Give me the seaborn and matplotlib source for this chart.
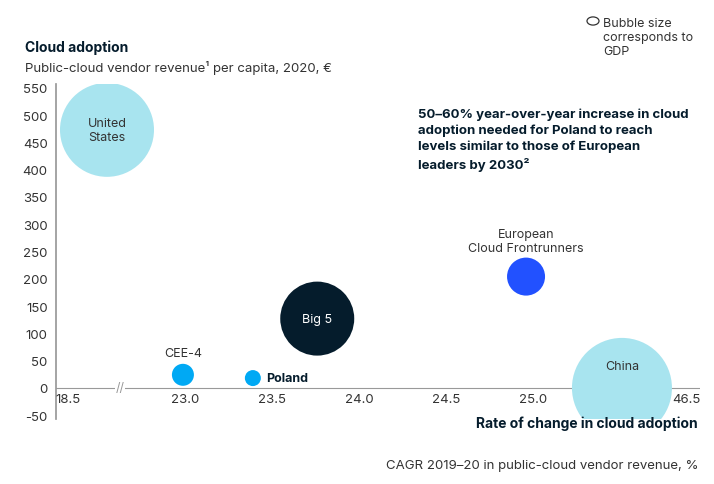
import numpy as np
import pandas as pd
import matplotlib.pyplot as plt
import seaborn as sns

# ---------- data ----------
names = ["United States", "CEE-4", "Poland", "Big 5", "European Cloud Frontrunners", "China"]
cagr = [20.0, 22.92, 23.39, 23.76, 24.96, 37.5]
revenue = [473, 24, 18, 127, 204, 0]
radius_px = [47, 11, 8, 37, 19, 50]
colors = ["#a8e4ef", "#00a9f4", "#00a9f4", "#051c2c", "#2251ff", "#a8e4ef"]
x_ticks = [18.5, 23.0, 23.5, 24.0, 24.5, 25.0, 46.5]
y_ticks = list(range(-50, 551, 50))

# broken x axis -> pixel-like position
def xpos(v):
    v = np.asarray(v, dtype=float)
    return np.where(v < 23, 68 + (v - 18.5) / 4.5 * 117,
           np.where(v <= 25, 185 + (v - 23) * 174, 533 + (v - 25) / 21.5 * 153))

df = pd.DataFrame({"name": names, "x": xpos(cagr), "y": revenue})

sns.set_theme(style="white")
plt.rcParams['font.family'] = ['Inter', 'DejaVu Sans']

fig = plt.figure(figsize=(7.14, 4.85), dpi=100)
ax = fig.add_axes([56/714, 1-420/485, 644/714, 335/485])
sizes = [(2 * r * 0.72) ** 2 for r in radius_px]
sns.scatterplot(data=df, x="x", y="y", hue="name", palette=dict(zip(names, colors)),
                s=sizes, legend=False, linewidth=0, ax=ax, zorder=3)

ax.set_xlim(56, 700)
ax.set_ylim(-57, 557)
ax.set_yticks(y_ticks)
ax.set_yticklabels([str(t) for t in y_ticks], fontsize=9.5, color="#333")
ax.set_xticks([])
ax.set_xlabel("")
ax.set_ylabel("")
for s in ["top", "right", "bottom"]:
    ax.spines[s].set_visible(False)
ax.spines["left"].set_color("#999")
ax.tick_params(axis="y", length=0, pad=6)
ax.axhline(0, color="#999", lw=0.8, zorder=1)
for t, p in zip(x_ticks, xpos(x_ticks)):
    ax.text(p, -10, f"{t:.1f}", ha="center", va="top", fontsize=9.5, color="#333")
for bp in [120, 580]:
    ax.text(bp, 0, "//", ha="center", va="center", fontsize=9, color="#999",
            bbox=dict(fc="white", ec="none", pad=0.5), zorder=2)

# bubble labels
ax.text(df.x[0], revenue[0], "United\nStates", ha="center", va="center", fontsize=9, color="#333", zorder=4)
ax.text(df.x[1], revenue[1] + 40, "CEE-4", ha="center", va="center", fontsize=9, color="#333")
ax.text(df.x[2] + 13, revenue[2], "Poland", ha="left", va="center", fontsize=9, weight="bold", color="#051c2c")
ax.text(df.x[3], revenue[3], "Big 5", ha="center", va="center", fontsize=9, color="white", zorder=4)
ax.text(df.x[4], revenue[4] + 65, "European\nCloud Frontrunners", ha="center", va="center", fontsize=9, color="#333")
ax.text(df.x[5], revenue[5] + 40, "China", ha="center", va="center", fontsize=9, color="#333", zorder=4)

# titles and notes
fig.text(25/714, 1-48/485, "Cloud adoption", fontsize=10, weight="bold", color="#051c2c", va="center")
fig.text(25/714, 1-68/485, "Public-cloud vendor revenue¹ per capita, 2020, €", fontsize=9.5, color="#333", va="center")
fig.text(418/714, 1-140/485, "50–60% year-over-year increase in cloud\nadoption needed for Poland to reach\nlevels similar to those of European\nleaders by 2030²",
         fontsize=9.5, weight="bold", color="#051c2c", va="center", linespacing=1.4)
fig.text(698/714, 1-424/485, "Rate of change in cloud adoption", fontsize=10, weight="bold", color="#051c2c", ha="right", va="center")
fig.text(698/714, 1-466/485, "CAGR 2019–20 in public-cloud vendor revenue, %", fontsize=9.5, color="#333", ha="right", va="center")
fig.patches.append(plt.Circle((593/714, 1-22/485), 6/714, transform=fig.transFigure,
                              fill=False, ec="#333", lw=0.9))
fig.text(603/714, 1-38/485, "Bubble size\ncorresponds to\nGDP", fontsize=9, color="#333", va="center")

fig.savefig("out.png", dpi=100)
